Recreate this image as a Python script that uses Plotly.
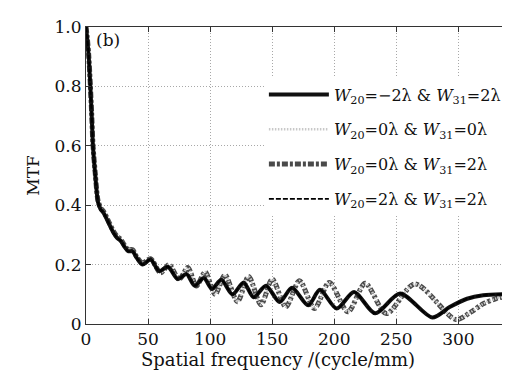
import plotly.graph_objects as go

# Spatial frequency (cycle/mm) and MTF values
freq_a = [0, 1, 2.2, 3.5, 4.6, 5.6, 7.5, 9.7, 12, 14, 17.7, 21.8, 25, 28, 31, 34, 37.5, 41, 45.5,
          52, 59, 66, 74, 81, 87.5, 95, 101.5, 109, 118, 127, 135, 145, 156, 166, 179, 188.5,
          202, 216, 233, 253, 279, 293, 307, 320, 340]
mtf_a = [1.0, 0.96, 0.9, 0.8, 0.7, 0.6, 0.5, 0.41, 0.385, 0.375, 0.345, 0.31, 0.29, 0.28, 0.26, 0.245, 0.245, 0.222, 0.2,
         0.217, 0.178, 0.193, 0.151, 0.168, 0.129, 0.155, 0.118, 0.149, 0.1, 0.14, 0.09, 0.129, 0.074, 0.122, 0.063, 0.115,
         0.052, 0.108, 0.036, 0.103, 0.022, 0.057, 0.085, 0.097, 0.101]

freq_b = [0, 1, 2.2, 3.5, 4.6, 5.6, 7.5, 9.7, 12, 14, 17.7, 21.8, 25, 28, 31, 34, 37.5, 41, 45.5,
          52, 60, 67, 75, 82, 89, 96, 104, 112, 122, 131, 141, 150, 161, 172, 184, 196,
          211, 225, 242, 265, 298, 310, 320, 330, 340]
mtf_b = [1.0, 0.965, 0.905, 0.805, 0.705, 0.605, 0.505, 0.415, 0.39, 0.38, 0.35, 0.315, 0.295, 0.285, 0.265, 0.25, 0.25, 0.225, 0.205,
         0.22, 0.172, 0.2, 0.15, 0.19, 0.128, 0.175, 0.1, 0.165, 0.075, 0.16, 0.065, 0.151, 0.058, 0.146, 0.052, 0.14,
         0.041, 0.137, 0.035, 0.135, 0.015, 0.04, 0.068, 0.085, 0.095]

labels = [
    "<i>W</i><sub>20</sub>=\u22122\u03bb &amp; <i>W</i><sub>31</sub>=2\u03bb",
    "<i>W</i><sub>20</sub>=0\u03bb &amp; <i>W</i><sub>31</sub>=0\u03bb",
    "<i>W</i><sub>20</sub>=0\u03bb &amp; <i>W</i><sub>31</sub>=2\u03bb",
    "<i>W</i><sub>20</sub>=2\u03bb &amp; <i>W</i><sub>31</sub>=2\u03bb",
]
x_ticks = [0, 50, 100, 150, 200, 250, 300]
y_ticks = [0, 0.2, 0.4, 0.6, 0.8, 1.0]
y_ticktext = ["0", "0.2", "0.4", "0.6", "0.8", "1.0"]
x_title = "Spatial frequency /(cycle/mm)"

FONT = "DejaVu Serif"

fig = go.Figure()
# draw order: gray dash-dot, light dotted, black solid, black dashed
fig.add_trace(go.Scatter(x=freq_b, y=mtf_b, mode="lines", name=labels[2], legendrank=3, legendgroup="c",
                         line=dict(color="#4a4a4a", width=5, dash="6px,2px,3px,2px", shape="spline", smoothing=0.8)))
fig.add_trace(go.Scatter(x=freq_b, y=mtf_b, mode="lines", name=labels[1], legendrank=2, legendgroup="b",
                         line=dict(color="#c8c8c8", width=2.5, dash="1.5px,1.5px", shape="spline", smoothing=0.8)))
fig.add_trace(go.Scatter(x=freq_a, y=mtf_a, mode="lines", name=labels[0], legendrank=1, legendgroup="a",
                         line=dict(color="#111111", width=4, shape="spline", smoothing=0.8)))
fig.add_trace(go.Scatter(x=freq_a, y=mtf_a, mode="lines", name=labels[3], legendrank=4, legendgroup="d",
                         line=dict(color="#000000", width=1.8, dash="5px,2px", shape="spline", smoothing=0.8)))

fig.add_annotation(text="(b)", xref="paper", yref="paper", x=0.02, y=0.995, xanchor="left", yanchor="top",
                   showarrow=False, font=dict(family=FONT, size=17, color="#111"))
fig.add_annotation(text=x_title, xref="paper", yref="paper", x=0.456, y=-0.118, xanchor="center",
                   yanchor="middle", showarrow=False, font=dict(family=FONT, size=18, color="#111"))

axis_common = dict(showline=True, linecolor="#333", linewidth=1, mirror="ticks", ticks="inside",
                   ticklen=5, tickcolor="#333", showgrid=True, gridcolor="#a8a8a8", griddash="1px,2px",
                   gridwidth=1, zeroline=False, tickfont=dict(family=FONT, size=17, color="#111"))

fig.update_xaxes(range=[0, 340], tickvals=x_ticks, **axis_common)
fig.update_yaxes(range=[0, 1], tickvals=y_ticks, ticktext=y_ticktext, title=dict(text="MTF",
                 font=dict(family=FONT, size=17, color="#111"), standoff=10), **axis_common)

fig.update_layout(
    width=510, height=374,
    margin=dict(l=78, r=9, t=13, b=58),
    paper_bgcolor="white", plot_bgcolor="white",
    showlegend=True,
    legend=dict(x=0.995, y=0.83, xanchor="right", yanchor="top", bgcolor="white",
                font=dict(family=FONT, size=16, color="#111"), itemwidth=60,
                traceorder="grouped", tracegroupgap=11),
)

fig.write_html("out.html")
